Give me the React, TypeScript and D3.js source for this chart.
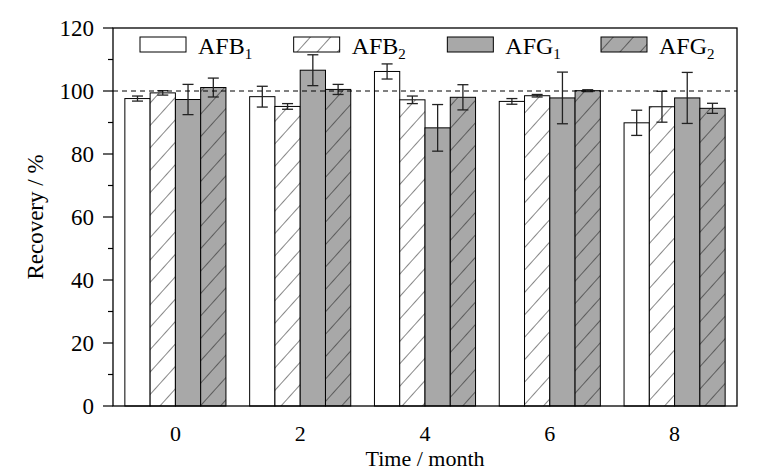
import React from 'react';
import * as d3 from 'd3';

// months on the x axis
const months = ['0', '2', '4', '6', '8'];
const seriesKeys = ['AFB1', 'AFB2', 'AFG1', 'AFG2'];
const seriesBase = ['AFB', 'AFB', 'AFG', 'AFG'];
const seriesSub = ['1', '2', '1', '2'];

// recovery (%) per series, one value per month
const afb1 = [97.6, 98.2, 106.2, 96.7, 89.9];
const afb2 = [99.4, 95.1, 97.2, 98.5, 95.0];
const afg1 = [97.3, 106.6, 88.3, 97.8, 97.8];
const afg2 = [101.1, 100.5, 98.0, 100.1, 94.5];

// standard deviations
const afb1Err = [0.8, 3.3, 2.4, 0.9, 4.0];
const afb2Err = [0.7, 0.9, 1.2, 0.4, 4.9];
const afg1Err = [4.8, 4.9, 7.4, 8.2, 8.1];
const afg2Err = [3.0, 1.6, 4.0, 0.3, 1.6];

const yTicks = [0, 20, 40, 60, 80, 100, 120];
const yMinorTicks = [10, 30, 50, 70, 90, 110];

const W = 765;
const H = 472;
const M = { left: 113, right: 28, top: 28, bottom: 66 };
const FONT = "'Liberation Serif', 'Times New Roman', serif";
const GRAY = '#a8a8a8';

const fills = ['#ffffff', 'url(#hatchW)', GRAY, 'url(#hatchG)'];

export default function App() {
  const values = [afb1, afb2, afg1, afg2];
  const errs = [afb1Err, afb2Err, afg1Err, afg2Err];

  const x = d3.scaleBand<string>()
    .domain(months)
    .range([M.left, W - M.right])
    .paddingInner(0.19)
    .paddingOuter(0.095);

  const xs = d3.scaleBand<string>()
    .domain(seriesKeys)
    .range([0, x.bandwidth()]);

  const y = d3.scaleLinear()
    .domain([0, 120])
    .range([H - M.bottom, M.top]);

  const x0 = M.left;
  const x1 = W - M.right;
  const y0 = y(0);
  const yTop = y(120);
  const capW = 11;

  // legend slots
  const legendX = d3.scaleLinear().domain([0, 3]).range([140, 601]);
  const legendY = 37;

  return (
    <svg width={W} height={H} style={{ position: 'absolute', left: 0, top: 0, background: '#fff', fontFamily: FONT }}>
      <defs>
        <pattern id="hatchW" patternUnits="userSpaceOnUse" width="15" height="15" patternTransform="rotate(42)">
          <rect width="15" height="15" fill="#ffffff" />
          <line x1="0" y1="0" x2="0" y2="15" stroke="#111" strokeWidth="1" />
        </pattern>
        <pattern id="hatchG" patternUnits="userSpaceOnUse" width="15" height="15" patternTransform="rotate(42)">
          <rect width="15" height="15" fill={GRAY} />
          <line x1="0" y1="0" x2="0" y2="15" stroke="#111" strokeWidth="1" />
        </pattern>
      </defs>

      {/* bars */}
      {seriesKeys.map((key, si) => (
        <g key={key}>
          {months.map((m, mi) => {
            const bx = (x(m) ?? 0) + (xs(key) ?? 0);
            const v = values[si][mi];
            return (
              <rect key={m} x={bx} y={y(v)} width={xs.bandwidth()} height={y0 - y(v)}
                fill={fills[si]} stroke="#000" strokeWidth={1} />
            );
          })}
        </g>
      ))}

      {/* error bars */}
      {seriesKeys.map((key, si) => (
        <g key={key + 'err'} stroke="#222" strokeWidth={1.3}>
          {months.map((m, mi) => {
            const cx = (x(m) ?? 0) + (xs(key) ?? 0) + xs.bandwidth() / 2;
            const v = values[si][mi];
            const e = errs[si][mi];
            return (
              <g key={m}>
                <line x1={cx} x2={cx} y1={y(v + e)} y2={y(v - e)} />
                <line x1={cx - capW / 2} x2={cx + capW / 2} y1={y(v + e)} y2={y(v + e)} />
                <line x1={cx - capW / 2} x2={cx + capW / 2} y1={y(v - e)} y2={y(v - e)} />
              </g>
            );
          })}
        </g>
      ))}

      {/* reference line at 100 % */}
      <line x1={x0} x2={x1} y1={y(100)} y2={y(100)} stroke="#000" strokeWidth={1} strokeDasharray="5,4" />

      {/* frame */}
      <rect x={x0} y={yTop} width={x1 - x0} height={y0 - yTop} fill="none" stroke="#000" strokeWidth={1.3} />

      {/* y ticks */}
      {yTicks.map(t => (
        <g key={t}>
          <line x1={x0 - 10} x2={x0} y1={y(t)} y2={y(t)} stroke="#000" strokeWidth={1.2} />
          <text x={x0 - 19} y={y(t)} dy="0.33em" textAnchor="end" fontSize={23}>{t}</text>
        </g>
      ))}
      {yMinorTicks.map(t => (
        <line key={t} x1={x0 - 5} x2={x0} y1={y(t)} y2={y(t)} stroke="#000" strokeWidth={1.2} />
      ))}

      {/* x tick labels */}
      {months.map(m => (
        <text key={m} x={(x(m) ?? 0) + x.bandwidth() / 2} y={441} textAnchor="middle" fontSize={22}>{m}</text>
      ))}

      {/* axis titles */}
      <text x={(x0 + x1) / 2} y={466} textAnchor="middle" fontSize={22}>Time / month</text>
      <text transform={`translate(43,${(y0 + yTop) / 2}) rotate(-90)`} textAnchor="middle" fontSize={23}>Recovery / %</text>

      {/* legend */}
      {seriesKeys.map((key, si) => {
        const lx = legendX(si);
        return (
          <g key={key + 'leg'}>
            <rect x={lx} y={legendY} width={46} height={15} fill={fills[si]} stroke="#000" strokeWidth={1} />
            <text x={lx + 58} y={legendY + 17} fontSize={24}>
              {seriesBase[si]}
              <tspan fontSize={15} dy={5}>{seriesSub[si]}</tspan>
            </text>
          </g>
        );
      })}
    </svg>
  );
}
